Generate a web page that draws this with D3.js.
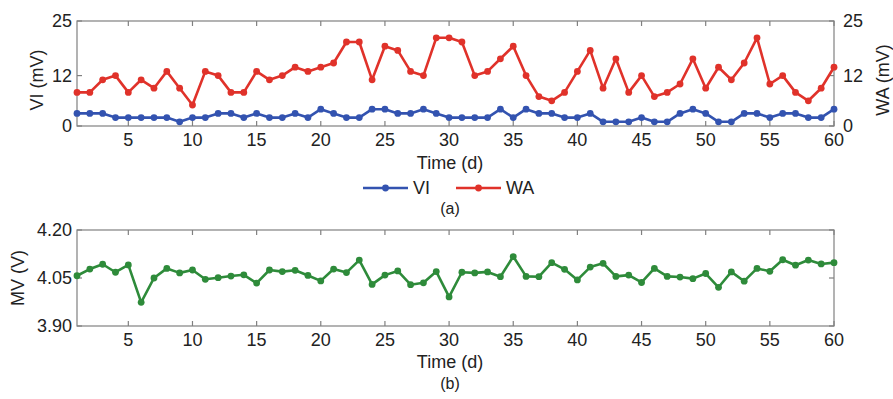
<!DOCTYPE html>
<html><head><meta charset="utf-8">
<script src="https://cdn.jsdelivr.net/npm/d3@7"></script>
<style>body{margin:0;background:#fff}svg{display:block;font-family:"Liberation Sans",Arial,sans-serif}</style>
</head><body><svg id="c" width="893" height="399"></svg>
<script>
const days = d3.range(1, 61);
const VI = [3,3,3,2,2,2,2,2,1,2, 2,3,3,2,3,2,2,3,2,4, 3,2,2,4,4,3,3,4,3,2, 2,2,2,4,2,4,3,3,2,2, 3,1,1,1,2,1,1,3,4,3, 1,1,3,3,2,3,3,2,2,4];
const WA = [8,8,11,12,8,11,9,13,9,5, 13,12,8,8,13,11,12,14,13,14, 15,20,20,11,19,18,13,12,21,21, 20,12,13,16,19,12,7,6,8,13, 18,9,16,8,12,7,8,10,16,9, 14,11,15,21,10,12,8,6,9,14];
const MV = [4.057,4.078,4.093,4.068,4.091,3.974,4.050,4.080,4.066,4.075, 4.046,4.051,4.056,4.060,4.034,4.075,4.070,4.074,4.058,4.041,
            4.078,4.067,4.106,4.030,4.059,4.072,4.029,4.035,4.070,3.991, 4.068,4.066,4.069,4.054,4.117,4.055,4.054,4.098,4.077,4.044,
            4.084,4.096,4.055,4.059,4.036,4.080,4.055,4.053,4.048,4.064, 4.021,4.069,4.040,4.080,4.071,4.107,4.090,4.106,4.094,4.098];
const xTicks = [5,10,15,20,25,30,35,40,45,50,55,60];
const topTicks = [0,12,25];
const botTicks = [3.90,4.05,4.20];
const series = [{name:"VI", values:VI, color:"#3353b0"},{name:"WA", values:WA, color:"#e0322a"}];

const svg = d3.select("#c");
const L = 77, R = 834;
const fs = "18px";
const axisCol = "#808080";
const x = d3.scaleLinear().domain([1,60]).range([L,R]);

function frame(g, y, top, bot, yT, fmt, rightLabels) {
  g.append("rect").attr("x",L).attr("y",top).attr("width",R-L).attr("height",bot-top)
    .attr("fill","none").attr("stroke",axisCol).attr("stroke-width",1.2);
  const tl = 5;
  xTicks.forEach(t=>{
    g.append("line").attr("x1",x(t)).attr("x2",x(t)).attr("y1",bot).attr("y2",bot-tl).attr("stroke",axisCol).attr("stroke-width",1.2);
    g.append("line").attr("x1",x(t)).attr("x2",x(t)).attr("y1",top).attr("y2",top+tl).attr("stroke",axisCol).attr("stroke-width",1.2);
    g.append("text").attr("x",x(t)).attr("y",bot+20).attr("text-anchor","middle").attr("font-size",fs).attr("fill","#222").text(t);
  });
  yT.forEach(t=>{
    g.append("line").attr("x1",L).attr("x2",L+tl).attr("y1",y(t)).attr("y2",y(t)).attr("stroke",axisCol).attr("stroke-width",1.2);
    g.append("line").attr("x1",R).attr("x2",R-tl).attr("y1",y(t)).attr("y2",y(t)).attr("stroke",axisCol).attr("stroke-width",1.2);
    g.append("text").attr("x",L-5).attr("y",y(t)).attr("dy","0.36em").attr("text-anchor","end").attr("font-size",fs).attr("fill","#222").text(fmt(t));
    if (rightLabels) g.append("text").attr("x",R+9).attr("y",y(t)).attr("dy","0.36em").attr("text-anchor","start").attr("font-size",fs).attr("fill","#222").text(fmt(t));
  });
}
function drawSeries(g, y, vals, color) {
  const line = d3.line().x((d,i)=>x(days[i])).y(d=>y(d));
  g.append("path").datum(vals).attr("d",line).attr("fill","none").attr("stroke",color).attr("stroke-width",2.6).attr("stroke-linejoin","round");
  g.selectAll(null).data(vals).enter().append("circle").attr("cx",(d,i)=>x(days[i])).attr("cy",d=>y(d)).attr("r",3.4).attr("fill",color);
}

// Top chart
const t0 = 21, t1 = 126;
const yTop = d3.scaleLinear().domain([0,25]).range([t1,t0]);
const gT = svg.append("g");
frame(gT, yTop, t0, t1, topTicks, d=>d, true);
series.forEach(s=>drawSeries(gT, yTop, s.values, s.color));
gT.append("text").attr("transform","translate(43,80) rotate(-90)").attr("text-anchor","middle").attr("font-size",fs).attr("fill","#222").text("VI (mV)");
gT.append("text").attr("transform","translate(889,80) rotate(-90)").attr("text-anchor","middle").attr("font-size",fs).attr("fill","#222").text("WA (mV)");
gT.append("text").attr("x",450).attr("y",169).attr("text-anchor","middle").attr("font-size",fs).attr("fill","#222").text("Time (d)");
// legend
const leg = [{x0:363, tx:413},{x0:456, tx:506}];
series.forEach((s,i)=>{
  const lx = leg[i].x0, ly = 188;
  gT.append("line").attr("x1",lx).attr("x2",lx+45).attr("y1",ly).attr("y2",ly).attr("stroke",s.color).attr("stroke-width",2.6);
  gT.append("circle").attr("cx",lx+22.5).attr("cy",ly).attr("r",3.4).attr("fill",s.color);
  gT.append("text").attr("x",leg[i].tx).attr("y",ly).attr("dy","0.36em").attr("font-size",fs).attr("fill","#222").text(s.name);
});
gT.append("text").attr("x",450).attr("y",214).attr("text-anchor","middle").attr("font-size","16px").attr("fill","#222").text("(a)");

// Bottom chart
const b0 = 230, b1 = 326;
const yBot = d3.scaleLinear().domain([3.90,4.20]).range([b1,b0]);
const gB = svg.append("g");
frame(gB, yBot, b0, b1, botTicks, d=>d.toFixed(2), false);
drawSeries(gB, yBot, MV, "#2e8b3a");
gB.append("text").attr("transform","translate(24,278) rotate(-90)").attr("text-anchor","middle").attr("font-size",fs).attr("fill","#222").text("MV (V)");
gB.append("text").attr("x",450).attr("y",368).attr("text-anchor","middle").attr("font-size",fs).attr("fill","#222").text("Time (d)");
gB.append("text").attr("x",450).attr("y",389).attr("text-anchor","middle").attr("font-size","16px").attr("fill","#222").text("(b)");
</script></body></html>
